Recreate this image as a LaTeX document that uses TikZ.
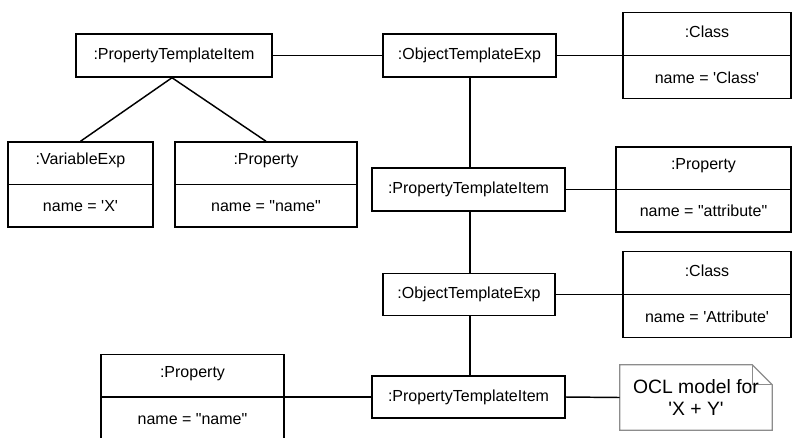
\documentclass[tikz,border=0pt]{standalone}
\usepackage{fontspec}
\setmainfont{Liberation Sans}
\usetikzlibrary{calc}
\tikzset{
  conn/.style={line width=1.1pt, draw=black},
  box/.style 2 args={draw=black, line width=1.1pt, fill=white, inner sep=0pt,
     minimum width=#1*0.75pt, minimum height=#2*0.75pt, font=\fontsize{12}{14}\selectfont},
  lbl/.style={inner sep=0pt, font=\fontsize{12}{14}\selectfont},
  notetext/.style={inner sep=0pt, align=center, font=\fontsize{14.5}{16.5}\selectfont}
}
\newcommand{\sq}{\textquotesingle}
\newcommand{\dq}{\textquotedbl}
\begin{document}
\begin{tikzpicture}[x=0.75pt,y=-0.75pt]
\useasboundingbox (0,0) rectangle (794,437);
% single-compartment boxes
\node[box={196}{43}] (pti1) at (174,55.5) {:PropertyTemplateItem};
\node[box={173}{43}] (ote1) at (469.5,55.5) {:ObjectTemplateExp};
\node[box={193}{43}] (pti2) at (468.5,189.5) {:PropertyTemplateItem};
\node[box={172}{42}] (ote2) at (469,294.5) {:ObjectTemplateExp};
\node[box={193}{42}] (pti3) at (468.5,397) {:PropertyTemplateItem};
% two-compartment boxes
\node[box={168}{86}] (cls1) at (707,55.5) {};
\node[box={145}{85}] (var) at (80.5,184.5) {};
\node[box={182}{85}] (prop1) at (266,184.5) {};
\node[box={175}{85}] (prop2) at (703.5,189.5) {};
\node[box={168}{86}] (cls2) at (707,294.5) {};
\node[box={183}{85}] (prop3) at (192.5,397) {};
\foreach \n in {cls1,var,prop1,prop2,cls2,prop3}
  \draw[conn] (\n.west) -- (\n.east);
\node[lbl] (cls1h) at ($(cls1.north)!0.45!(cls1.center)$) {:Class};
\node[lbl] (cls1v) at ($(cls1.center)!0.5!(cls1.south)$) {name = \sq Class\sq};
\node[lbl] (varh) at ($(var.north)!0.45!(var.center)$) {:VariableExp};
\node[lbl] (varv) at ($(var.center)!0.5!(var.south)$) {name = \sq X\sq};
\node[lbl] (prop1h) at ($(prop1.north)!0.45!(prop1.center)$) {:Property};
\node[lbl] (prop1v) at ($(prop1.center)!0.5!(prop1.south)$) {name = \dq name\dq};
\node[lbl] (prop2h) at ($(prop2.north)!0.45!(prop2.center)$) {:Property};
\node[lbl] (prop2v) at ($(prop2.center)!0.5!(prop2.south)$) {name = \dq attribute\dq};
\node[lbl] (cls2h) at ($(cls2.north)!0.45!(cls2.center)$) {:Class};
\node[lbl] (cls2v) at ($(cls2.center)!0.5!(cls2.south)$) {name = \sq Attribute\sq};
\node[lbl] (prop3h) at ($(prop3.north)!0.45!(prop3.center)$) {:Property};
\node[lbl] (prop3v) at ($(prop3.center)!0.5!(prop3.south)$) {name = \dq name\dq};
% note
\node[inner sep=0pt, minimum width=152*0.75pt, minimum height=65*0.75pt] (note) at (696,397.5) {};
\draw[line width=0.9pt, draw=black!45, fill=white]
  (note.north west) -- ($(note.north east)+(-20,0)$) -- ($(note.north east)+(0,20)$)
  -- (note.south east) -- (note.south west) -- cycle;
\draw[line width=0.9pt, draw=black!45]
  ($(note.north east)+(-20,0)$) -- ($(note.north east)+(-20,20)$) -- ($(note.north east)+(0,20)$);
\node[notetext] (notet) at (note.center) {OCL model for\\\sq X + Y\sq};
% connectors
\draw[conn] (pti1.east) -- (ote1.west);
\draw[conn] (ote1.east) -- (cls1.west);
\coordinate (apex) at ($(pti1.south)+(-2,0)$);
\draw[conn] (apex) -- (var.north);
\draw[conn] (apex) -- (prop1.north);
\coordinate (v1) at ($(ote1.south)+(0.5,0)$);
\coordinate (v2) at ($(pti2.south)+(1.5,0)$);
\coordinate (v3) at ($(ote2.south)+(1,0)$);
\draw[conn] (v1) -- (v1 |- pti2.north);
\draw[conn] (pti2.east) -- (prop2.west);
\draw[conn] (v2) -- (v2 |- ote2.north);
\draw[conn] (ote2.east) -- (cls2.west);
\draw[conn] (v3) -- (v3 |- pti3.north);
\draw[conn] (pti3.west) -- (prop3.east);
\draw[conn] (pti3.east) -- (note.west);
\end{tikzpicture}
\end{document}
